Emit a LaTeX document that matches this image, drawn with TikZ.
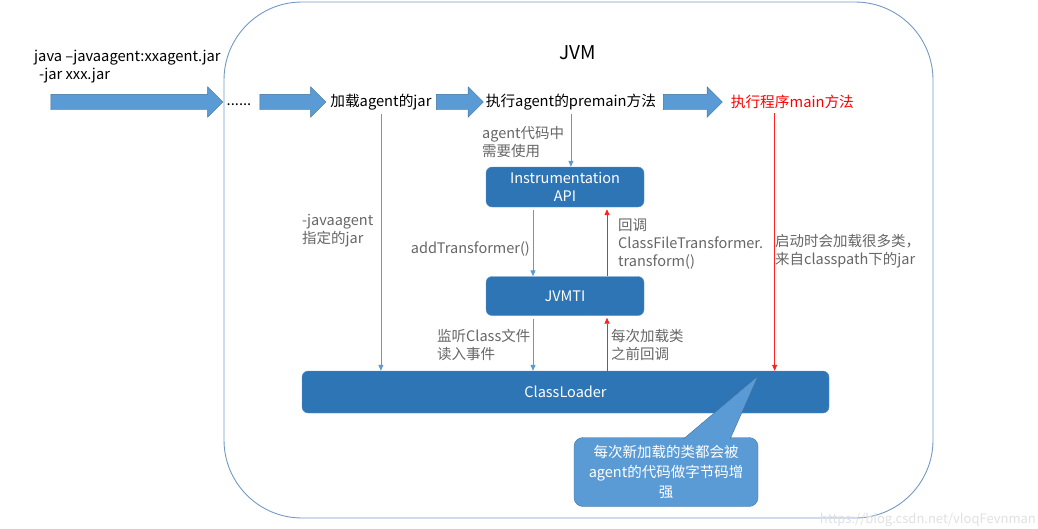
\documentclass[tikz,border=0pt]{standalone}
\usepackage{fontspec}
\setmainfont{Noto Sans CJK SC}
\usetikzlibrary{shapes.arrows}
\usetikzlibrary{positioning}
\usetikzlibrary{arrows.meta}
\definecolor{boxblue}{HTML}{2E75B6}
\definecolor{boxedge}{HTML}{5B8FC7}
\definecolor{arrowfill}{HTML}{5B9BD5}
\definecolor{arrowedge}{HTML}{41719C}
\definecolor{frameblue}{HTML}{7398C4}
\definecolor{labelgray}{HTML}{666666}
\definecolor{linered}{HTML}{FF2020}
\tikzset{
    plaintext/.style={
        text=black,inner sep=1pt,
        font=\fontsize{14.7}{18}\selectfont,
        },
    graytext/.style={
        text=labelgray,inner sep=1pt,align=left,
        font=\fontsize{14.5}{18}\selectfont,
        },
    bigarrow/.style={
        single arrow,draw=arrowedge,fill=arrowfill,
        single arrow head extend=7.5pt,
        single arrow tip angle=90,
        inner xsep=0pt,inner ysep=7.5pt,
        minimum height=#1,
        },
    bluebox/.style={
        rectangle,rounded corners=6pt,
        fill=boxblue,draw=boxedge,text=white,
        align=center,inner sep=1pt,
        font=\fontsize{14.5}{18}\selectfont,
        },
    notebox/.style={
        rectangle,rounded corners=9pt,
        fill=arrowfill,draw=arrowedge,text=white,
        align=center,inner sep=1pt,
        font=\fontsize{14.5}{20}\selectfont,
        },
    bluearrow/.style={
        draw=arrowfill,line width=.8pt,
        -{Triangle[length=6pt,width=5pt]},
        },
    redarrow/.style={
        draw=linered,line width=.8pt,
        -{Triangle[length=6pt,width=5pt]},
        }
    }
\begin{document}
\begin{tikzpicture}[x=1pt,y=-1pt]
    \useasboundingbox (0,0) rectangle (1038,528);
    % JVM frame
    \draw[frameblue,line width=.9pt,rounded corners=78pt] (224,2) rectangle (933,518);
    \node[plaintext,font=\fontsize{19}{20}\selectfont] (jvm) at (578,53) {JVM};
    % command line
    \node[plaintext,anchor=north west,align=left] (cmd) at (33,49) {java –javaagent:xxagent.jar\\\hspace{5pt}-jar xxx.jar};
    % startup flow
    \node[bigarrow=172] (a1) at (133,102) {};
    \node[plaintext] (dots) at (239,105) {......};
    \node[bigarrow=66] (a2) at (289,102) {};
    \node[plaintext] (load) [right=3pt of a2] {加载agent的jar};
    \node[bigarrow=47] (a3) at (456,102) {};
    \node[plaintext] (pre) [right=1pt of a3] {执行agent的premain方法};
    \node[bigarrow=59] (a4) at (689,102) {};
    \node[plaintext,text=red] (main) [right=7pt of a4] {执行程序main方法};
    % blocks
    \node[bluebox,minimum width=158,minimum height=40] (api) at (565,187) {Instrumentation\\API};
    \node[bluebox,minimum width=158,minimum height=39] (jvmti) at (565,296) {JVMTI};
    \node[bluebox,minimum width=527,minimum height=42] (cl) at (565.5,392) {ClassLoader};
    % connectors
    \draw[bluearrow] ([yshift=-3pt]load.south) -- (load.south |- cl.north);
    \draw[bluearrow] ([yshift=-3pt]pre.south) -- (pre.south |- api.north);
    \coordinate (mainfoot) at ([xshift=45pt,yshift=-3pt]main.south west);
    \draw[redarrow] (mainfoot) -- (mainfoot |- cl.north);
    \draw[bluearrow] ([xshift=-32pt,yshift=-3pt]api.south) -- ([xshift=-32pt]jvmti.north);
    \draw[redarrow] ([xshift=42pt]jvmti.north) -- ([xshift=42pt,yshift=-2pt]api.south);
    \draw[bluearrow] ([xshift=-32pt,yshift=-3pt]jvmti.south) -- ([xshift=-32pt]jvmti.south |- cl.north);
    \draw[redarrow] ([xshift=42pt]jvmti.south |- cl.north) -- ([xshift=42pt,yshift=-2pt]jvmti.south);
    % labels
    \node[graytext,anchor=west] (uselbl) at (481,142) {agent代码中\\需要使用};
    \node[graytext,anchor=west] (jarlbl) at (301,231) {-javaagent\\指定的jar};
    \node[graytext,anchor=east] (addlbl) at (531,249) {addTransformer()};
    \node[graytext,anchor=west] (cblbl) at (617,244) {回调\\ClassFileTransformer.\\transform()};
    \node[graytext,anchor=west] (listenlbl) at (436,345) {监听Class文件\\读入事件};
    \node[graytext,anchor=west] (eachlbl) at (610,345) {每次加载类\\之前回调};
    \node[graytext,anchor=west] (bootlbl) at (774,251) {启动时会加载很多类，\\来自classpath下的jar};
    % callout
    \node[notebox,minimum width=184,minimum height=69] (note) at (666,472) {每次新加载的类都会被\\agent的代码做字节码增\\强};
    \coordinate (tip) at (758,376);
    \filldraw[fill=arrowfill,draw=arrowedge] ([xshift=17pt,yshift=-2pt]note.north) -- (tip) -- ([xshift=64pt,yshift=-2pt]note.north);
    \node[text=black!12,anchor=east,inner sep=0pt,font=\fontsize{13}{14}\selectfont] (mark) at (1036,520) {https://blog.csdn.net/vloqFevnman};
\end{tikzpicture}
\end{document}
